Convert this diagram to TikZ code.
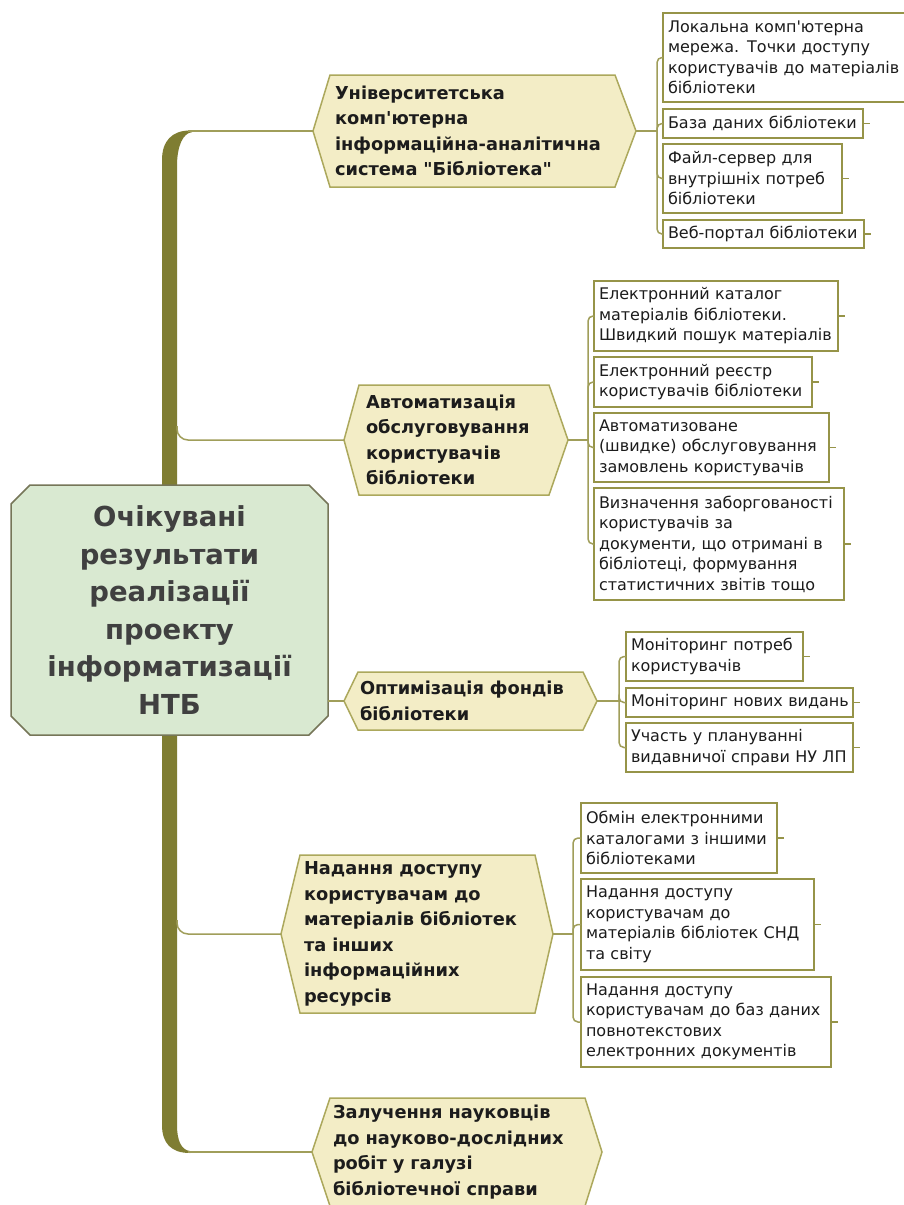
\documentclass[tikz,border=0pt]{standalone}
\usepackage{fontspec}
\setmainfont{DejaVu Sans}
\newfontfamily\djv{DejaVu Sans}
\usetikzlibrary{backgrounds}

\definecolor{trunkcol}{RGB}{127,125,50}
\definecolor{conncol}{RGB}{160,158,90}
\definecolor{hexfill}{RGB}{243,237,198}
\definecolor{hexline}{RGB}{172,168,92}
\definecolor{leafline}{RGB}{150,148,72}
\definecolor{hubfill}{RGB}{217,233,209}
\definecolor{hubline}{RGB}{118,118,88}
\definecolor{hubtext}{RGB}{64,64,64}
\definecolor{darktext}{RGB}{28,28,28}

% hexagonal frame behind a branch node: node name, left inset, right inset
\newcommand{\hexbg}[3]{%
  \begin{scope}[on background layer]
    \filldraw[hexframe] (#1.west) -- ([xshift=#2]#1.north west) -- ([xshift=-#3]#1.north east)
      -- (#1.east) -- ([xshift=-#3]#1.south east) -- ([xshift=#2]#1.south west) -- cycle;
  \end{scope}}
% chamfered frame behind the central node
\newcommand{\octbg}[2]{%
  \begin{scope}[on background layer]
    \filldraw[hubframe] ([xshift=#2]#1.north west) -- ([xshift=-#2]#1.north east)
      -- ([yshift=-#2]#1.north east) -- ([yshift=#2]#1.south east)
      -- ([xshift=-#2]#1.south east) -- ([xshift=#2]#1.south west)
      -- ([yshift=#2]#1.south west) -- ([yshift=-#2]#1.north west) -- cycle;
  \end{scope}}

\begin{document}
\begin{tikzpicture}[x=1pt,y=-1pt,
  hexframe/.style={fill=hexfill, draw=hexline, line width=1.5pt, line join=miter},
  hubframe/.style={fill=hubfill, draw=hubline, line width=1.5pt},
  hub/.style={inner sep=0pt, outer sep=0pt, align=center, text=hubtext,
    font=\djv\bfseries\fontsize{27.5}{37.6}\selectfont},
  branch/.style={inner ysep=0pt, outer sep=0pt, align=left, text=darktext,
    font=\djv\bfseries\fontsize{17.8}{25.5}\selectfont},
  leaf/.style={draw=leafline, line width=1.6pt, fill=white, anchor=north west,
    inner xsep=5pt, inner ysep=0pt, outer sep=0pt, align=left, text=darktext,
    font=\djv\fontsize{16}{20.5}\selectfont},
  conn/.style={draw=conncol, line width=1.5pt},
  stub/.style={draw=leafline, line width=1.3pt}]

\useasboundingbox (0,0) rectangle (904,1205);
\begin{scope}[on background layer]
  \fill[white] (0,0) rectangle (904,1205);
  % main trunk with its rounded top and bottom ends
  \fill[trunkcol] (190,130.5) .. controls (172,130.5) and (162,141) .. (162,160)
    -- (162,1125) .. controls (162,1143) and (171,1153) .. (190,1153)
    -- (190,1151) .. controls (181,1150) and (177,1140) .. (177,1125)
    -- (177,166) .. controls (177,146) and (183,133) .. (192,132.2) -- cycle;
\end{scope}

% central topic
\node[hub, minimum width=317, minimum height=250] (hub) at (169.5,610)
  {Очікувані\\результати\\реалізації\\проекту\\інформатизації\\НТБ};
\octbg{hub}{19}

% main branches
\node[branch, minimum width=323, minimum height=112, text width=279, inner xsep=22pt] (b1) at (474.5,131)
  {Університетська\\комп'ютерна\\інформаційна-аналітична\\система "Бібліотека"};
\hexbg{b1}{17}{21}
\node[branch, minimum width=224, minimum height=110, text width=180, inner xsep=22pt] (b2) at (456,440)
  {Автоматизація\\обслуговування\\користувачів\\бібліотеки};
\hexbg{b2}{15}{19}
\node[branch, minimum width=253, minimum height=58, text width=221, inner xsep=16pt] (b3) at (470.5,701)
  {Оптимізація фондів\\бібліотеки};
\hexbg{b3}{14}{14}
\node[branch, minimum width=272, minimum height=158, text width=226, inner xsep=23pt] (b4) at (417,934)
  {Надання доступу\\користувачам до\\\mbox{матеріалів бібліотек}\\та інших\\інформаційних\\ресурсів};
\hexbg{b4}{19}{18}
\node[branch, minimum width=290, minimum height=108, text width=248, inner xsep=21pt] (b5) at (457,1152)
  {Залучення науковців\\до науково-дослідних\\робіт у галузі\\бібліотечної справи};
\hexbg{b5}{18}{17}

% leaves of branch 1
\node[leaf, minimum width=255, minimum height=89, text width=245] (l11) at (663,13)
  {Локальна комп'ютерна\\мережа. Точки доступу\\користувачів до матеріалів\\бібліотеки};
\node[leaf, minimum width=200, minimum height=29, text width=190] (l12) at (663,109)
  {\mbox{База даних бібліотеки}};
\node[leaf, minimum width=179, minimum height=69, text width=169] (l13) at (663,144)
  {Файл-сервер для\\внутрішніх потреб\\бібліотеки};
\node[leaf, minimum width=201, minimum height=28, text width=191] (l14) at (663,220)
  {\mbox{Веб-портал бібліотеки}};

% leaves of branch 2
\node[leaf, minimum width=244, minimum height=70, text width=234] (l21) at (594,281)
  {Електронний каталог\\матеріалів бібліотеки.\\\mbox{Швидкий пошук матеріалів}};
\node[leaf, minimum width=218, minimum height=50, text width=208] (l22) at (594,357)
  {Електронний реєстр\\\mbox{користувачів бібліотеки}};
\node[leaf, minimum width=235, minimum height=69, text width=225] (l23) at (594,413)
  {Автоматизоване\\\mbox{(швидке) обслуговування}\\\mbox{замовлень користувачів}};
\node[leaf, minimum width=250, minimum height=112, text width=240] (l24) at (594,488)
  {\mbox{Визначення заборгованості}\\користувачів за\\\mbox{документи, що отримані в}\\бібліотеці, формування\\\mbox{статистичних звітів тощо}};

% leaves of branch 3
\node[leaf, minimum width=177, minimum height=49, text width=167] (l31) at (626,632)
  {\mbox{Моніторинг потреб}\\користувачів};
\node[leaf, minimum width=227, minimum height=29, text width=217] (l32) at (626,688)
  {\mbox{Моніторинг нових видань}};
\node[leaf, minimum width=227, minimum height=49, text width=217] (l33) at (626,723)
  {Участь у плануванні\\\mbox{видавничої справи НУ ЛП}};

% leaves of branch 4
\node[leaf, minimum width=196, minimum height=70, text width=186] (l41) at (581,803)
  {\mbox{Обмін електронними}\\\mbox{каталогами з іншими}\\бібліотеками};
\node[leaf, minimum width=233, minimum height=91, text width=223] (l42) at (581,879)
  {Надання доступу\\користувачам до\\\mbox{матеріалів бібліотек СНД}\\та світу};
\node[leaf, minimum width=250, minimum height=90, text width=240] (l43) at (581,977)
  {Надання доступу\\\mbox{користувачам до баз даних}\\повнотекстових\\\mbox{електронних документів}};

% connectors from the trunk and the central topic
\coordinate (t1) at (188,131);
\coordinate (t2) at (177,426);
\coordinate (t4) at (177,920);
\coordinate (t5) at (188,1152);
\draw[conn] (t1) -- (b1.west);
\draw[conn, rounded corners=11] (t2) |- (b2.west);
\draw[conn] (hub.east |- b3.west) -- (b3.west);
\draw[conn, rounded corners=11] (t4) |- (b4.west);
\draw[conn] (t5) -- (b5.west);

% brackets from branches to their leaves
\coordinate (k1) at (657,131);
\coordinate (k2) at (588,440);
\coordinate (k3) at (619,701);
\coordinate (k4) at (573,934);
\draw[conn] (b1.east) -- (k1);
\draw[conn] (b2.east) -- (k2);
\draw[conn] (b3.east) -- (k3);
\draw[conn] (b4.east) -- (k4);
\foreach \l in {l11,l12,l13,l14} \draw[conn, rounded corners=5] (k1) |- (\l.west);
\foreach \l in {l21,l22,l23,l24} \draw[conn, rounded corners=5] (k2) |- (\l.west);
\foreach \l in {l31,l32,l33} \draw[conn, rounded corners=5] (k3) |- (\l.west);
\foreach \l in {l41,l42,l43} \draw[conn, rounded corners=5] (k4) |- (\l.west);

% collapsed-branch stubs on the leaves
\foreach \l in {l12,l13,l14,l21,l22,l23,l24,l31,l32,l33,l41,l42,l43}
  \draw[stub] (\l.east) -- ++(7,0);
\end{tikzpicture}
\end{document}
